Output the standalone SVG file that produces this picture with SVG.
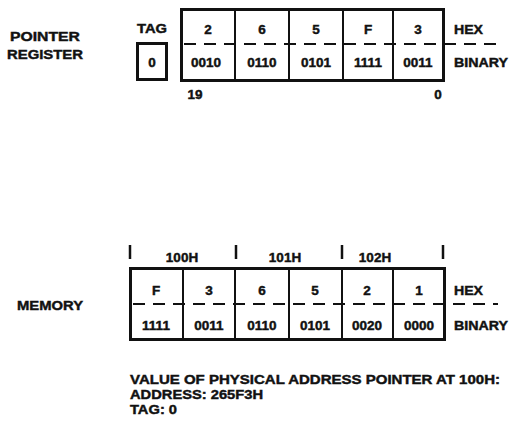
<svg xmlns="http://www.w3.org/2000/svg" width="511" height="421" viewBox="0 0 511 421">
<style>
text{font-family:"Liberation Sans",Arial,sans-serif;font-weight:bold;font-size:13.5px;fill:#111;stroke:#111;stroke-width:0.45}
.c{text-anchor:middle}
.box{fill:none;stroke:#111;stroke-width:3}
.div{stroke:#111;stroke-width:2}
.dash{stroke:#111;stroke-width:2;stroke-dasharray:12 8}
.tick{stroke:#111;stroke-width:2.5}
</style>
<rect width="511" height="421" fill="#fff"/>
<g id="pointer-label">
<text class="c" x="45" y="41" textLength="70" lengthAdjust="spacingAndGlyphs">POINTER</text>
<text class="c" x="45" y="59" textLength="76" lengthAdjust="spacingAndGlyphs">REGISTER</text>
</g>
<g id="tag">
<text class="c" x="152" y="33" textLength="30" lengthAdjust="spacingAndGlyphs">TAG</text>
<rect class="box" x="137.5" y="43.5" width="29" height="36"/>
<text class="c" x="152" y="67">0</text>
</g>
<g id="pointer-register">
<rect class="box" x="181.5" y="9.5" width="262" height="71"/>
<line class="div" x1="235" y1="9" x2="235" y2="80"/>
<line class="div" x1="289" y1="9" x2="289" y2="80"/>
<line class="div" x1="343" y1="9" x2="343" y2="80"/>
<line class="div" x1="393" y1="9" x2="393" y2="80"/>
<line class="dash" x1="184" y1="44" x2="498" y2="44"/>
<text class="c" x="208" y="34">2</text>
<text class="c" x="262" y="34">6</text>
<text class="c" x="316" y="34">5</text>
<text class="c" x="368" y="34">F</text>
<text class="c" x="418" y="34">3</text>
<text class="c" x="206" y="67">0010</text>
<text class="c" x="262" y="67">0110</text>
<text class="c" x="316" y="67">0101</text>
<text class="c" x="368" y="67">1111</text>
<text class="c" x="418" y="67">0011</text>
<text x="454" y="34" textLength="29" lengthAdjust="spacingAndGlyphs">HEX</text>
<text x="454" y="67" textLength="54" lengthAdjust="spacingAndGlyphs">BINARY</text>
<text class="c" x="195" y="99">19</text>
<text class="c" x="438" y="99">0</text>
</g>
<g id="memory-label">
<text class="c" x="50" y="310" textLength="66" lengthAdjust="spacingAndGlyphs">MEMORY</text>
</g>
<g id="memory">
<line class="tick" x1="130" y1="245" x2="130" y2="259"/>
<line class="tick" x1="236" y1="245" x2="236" y2="259"/>
<line class="tick" x1="342" y1="245" x2="342" y2="259"/>
<line class="tick" x1="443" y1="245" x2="443" y2="259"/>
<text class="c" x="182" y="262">100H</text>
<text class="c" x="285" y="262">101H</text>
<text class="c" x="375" y="262">102H</text>
<rect class="box" x="130.5" y="268.5" width="314" height="71"/>
<line class="div" x1="183" y1="268" x2="183" y2="339"/>
<line class="div" x1="235" y1="268" x2="235" y2="339"/>
<line class="div" x1="289" y1="268" x2="289" y2="339"/>
<line class="div" x1="342" y1="268" x2="342" y2="339"/>
<line class="div" x1="393" y1="268" x2="393" y2="339"/>
<line class="dash" x1="133" y1="304" x2="498" y2="304"/>
<text class="c" x="156" y="295">F</text>
<text class="c" x="209" y="295">3</text>
<text class="c" x="262" y="295">6</text>
<text class="c" x="315" y="295">5</text>
<text class="c" x="367" y="295">2</text>
<text class="c" x="419" y="295">1</text>
<text class="c" x="156" y="330">1111</text>
<text class="c" x="209" y="330">0011</text>
<text class="c" x="262" y="330">0110</text>
<text class="c" x="315" y="330">0101</text>
<text class="c" x="367" y="330">0020</text>
<text class="c" x="419" y="330">0000</text>
<text x="454" y="295" textLength="29" lengthAdjust="spacingAndGlyphs">HEX</text>
<text x="454" y="330" textLength="54" lengthAdjust="spacingAndGlyphs">BINARY</text>
</g>
<g id="note">
<text x="130" y="384" textLength="370" lengthAdjust="spacingAndGlyphs">VALUE OF PHYSICAL ADDRESS POINTER AT 100H:</text>
<text x="130" y="399" textLength="133" lengthAdjust="spacingAndGlyphs">ADDRESS: 265F3H</text>
<text x="130" y="414" textLength="47" lengthAdjust="spacingAndGlyphs">TAG: 0</text>
</g>
</svg>
